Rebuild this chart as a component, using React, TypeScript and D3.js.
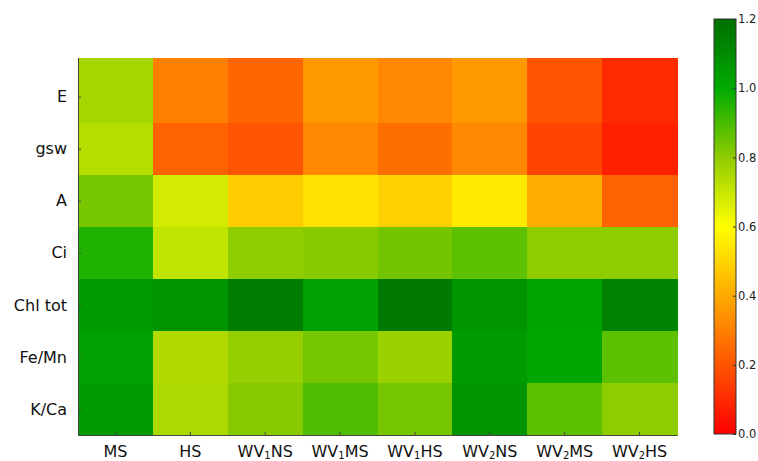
import React, { useEffect, useRef } from 'react'
import { axisBottom, axisLeft, axisRight, range, scaleBand, scaleLinear, select } from 'd3'

// Row / column labels
const filas = ['E', 'gsw', 'A', 'Ci', 'Chl tot', 'Fe/Mn', 'K/Ca']
const columnas = ['MS', 'HS', 'WV1NS', 'WV1MS', 'WV1HS', 'WV2NS', 'WV2MS', 'WV2HS']

// Values per row (same column order as above)
const valE = [0.76, 0.30, 0.24, 0.36, 0.32, 0.36, 0.20, 0.10]
const valGsw = [0.73, 0.23, 0.20, 0.32, 0.26, 0.32, 0.16, 0.075]
const valA = [0.835, 0.68, 0.48, 0.53, 0.49, 0.55, 0.41, 0.23]
const valCi = [0.955, 0.71, 0.80, 0.81, 0.84, 0.87, 0.80, 0.80]
const valChl = [1.05, 1.07, 1.15, 1.03, 1.16, 1.07, 1.02, 1.13]
const valFeMn = [1.03, 0.74, 0.79, 0.835, 0.78, 1.05, 1.01, 0.87]
const valKCa = [1.05, 0.75, 0.81, 0.89, 0.835, 1.07, 0.87, 0.80]

const matriz = [valE, valGsw, valA, valCi, valChl, valFeMn, valKCa]

// Colorbar ticks
const ticksBarra = [0, 0.2, 0.4, 0.6, 0.8, 1.0, 1.2]

const App = () => {
    const svgRef = useRef(null)

    useEffect(() => {
        const svg = select(svgRef.current)
        svg.selectAll('*').remove()

        const fuente = 'DejaVu Sans, sans-serif'
        const izq = 78, der = 677, arriba = 58, abajo = 435

        const color = scaleLinear<string>()
            .domain([0, 0.6, 0.8, 1.0, 1.2])
            .range(['#ff0000', '#ffff00', '#8fcc00', '#00aa00', '#006e00'])
            .clamp(true)

        const x = scaleBand().domain(columnas).range([izq, der]).padding(0)

        // first row is stretched up to the top of the plot
        const yTop = -0.745
        const y = scaleLinear().domain([yTop, filas.length - 0.5]).range([arriba, abajo])

        const celdas = matriz.flatMap((fila, i) => fila.map((v, j) => ({ i, j, v })))

        svg.append('g')
            .selectAll('rect')
            .data(celdas)
            .join('rect')
            .attr('x', d => x(columnas[d.j]))
            .attr('y', d => y(d.i === 0 ? yTop : d.i - 0.5))
            .attr('width', x.bandwidth() + 0.5)
            .attr('height', d => y(d.i + 0.5) - y(d.i === 0 ? yTop : d.i - 0.5) + 0.5)
            .attr('fill', d => color(d.v))
            .attr('shape-rendering', 'crispEdges')

        // y axis
        const yAxis = axisLeft(y)
            .tickValues(range(filas.length))
            .tickFormat(i => filas[i])
            .tickSizeInner(-3)
            .tickSizeOuter(0)
            .tickPadding(11)

        const gy = svg.append('g').attr('transform', `translate(${izq},0)`).call(yAxis)
        gy.select('.domain').attr('stroke', '#444').attr('d', `M0.5,${arriba}V${abajo}`)
        gy.selectAll('.tick line').attr('stroke', '#444')
        gy.selectAll('.tick text')
            .attr('font-family', fuente)
            .attr('font-size', 16)
            .attr('fill', '#111')

        // x axis
        const xAxis = axisBottom(x)
            .tickSizeInner(-3)
            .tickSizeOuter(0)
            .tickFormat(() => '')

        const gx = svg.append('g').attr('transform', `translate(0,${abajo})`).call(xAxis)
        gx.select('.domain').attr('stroke', '#444')
        gx.selectAll('.tick line').attr('stroke', '#444')

        const etiquetas = gx.selectAll('.tick')
            .append('text')
            .attr('y', 22)
            .attr('text-anchor', 'middle')
            .attr('font-family', fuente)
            .attr('font-size', 16)
            .attr('fill', '#111')

        etiquetas.each(function (d) {
            const t = select(this)
            const m = /^WV(\d)(.*)$/.exec(d)
            if (!m) {
                t.text(d)
                return
            }
            t.append('tspan').text('WV')
            t.append('tspan').attr('font-size', 10).attr('dy', 2).text(m[1])
            t.append('tspan').attr('dy', -2).text(m[2])
        })

        // colorbar
        const bx = 714, bw = 22
        const yBarra = scaleLinear().domain([0, 1.2]).range([434, 19])

        const grad = svg.append('defs').append('linearGradient')
            .attr('id', 'grad-barra')
            .attr('x1', 0).attr('y1', 1).attr('x2', 0).attr('y2', 0)
        grad.selectAll('stop')
            .data(range(0, 1.2001, 0.05))
            .join('stop')
            .attr('offset', d => d / 1.2)
            .attr('stop-color', d => color(d))

        svg.append('rect')
            .attr('x', bx)
            .attr('y', yBarra(1.2))
            .attr('width', bw)
            .attr('height', yBarra(0) - yBarra(1.2))
            .attr('fill', 'url(#grad-barra)')
            .attr('stroke', '#333')
            .attr('stroke-width', 1)

        const barAxis = axisRight(yBarra)
            .tickValues(ticksBarra)
            .tickFormat(d => d.toFixed(1))
            .tickSizeInner(-3)
            .tickSizeOuter(0)
            .tickPadding(2)

        const gb = svg.append('g').attr('transform', `translate(${bx + bw},0)`).call(barAxis)
        gb.select('.domain').remove()
        gb.selectAll('.tick line').attr('stroke', '#333')
        gb.selectAll('.tick text')
            .attr('font-family', fuente)
            .attr('font-size', 11.5)
            .attr('fill', '#222')
    }, [])

    return (
        <svg
            ref={svgRef}
            width={758}
            height={461}
            style={{ position: 'absolute', left: 0, top: 0, background: '#fff' }}
        />
    )
}

export default App
